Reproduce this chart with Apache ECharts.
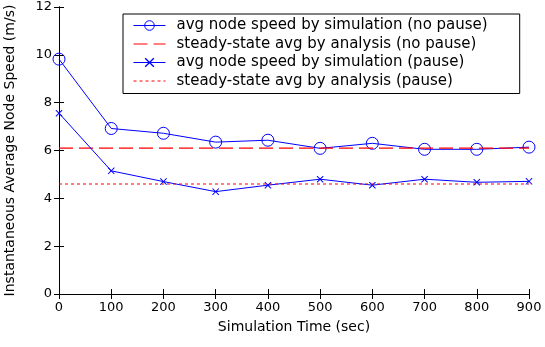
<!DOCTYPE html>
<html>
<head>
<meta charset="utf-8">
<script src="https://cdn.jsdelivr.net/npm/echarts@6/dist/echarts.min.js"></script>
<style>
  html, body { margin: 0; padding: 0; background: #fff; }
  #chart { width: 545px; height: 347px; }
</style>
</head>
<body>
<div id="chart"></div>
<script>
// Simulation time points (sec)
const times = [0, 100, 200, 300, 400, 500, 600, 700, 800, 900];
// Average node speed from simulation, random waypoint without pause (m/s)
const simNoPause = [9.82, 6.92, 6.72, 6.35, 6.43, 6.09, 6.30, 6.05, 6.05, 6.14];
// Average node speed from simulation, with pause time (m/s)
const simPause = [7.56, 5.15, 4.70, 4.28, 4.55, 4.80, 4.55, 4.80, 4.67, 4.71];
// Steady-state averages predicted by analysis (m/s)
const steadyNoPause = 6.10;
const steadyPause = 4.60;

const names = [
  'avg node speed by simulation (no pause)',
  'steady-state avg by analysis (no pause)',
  'avg node speed by simulation (pause)',
  'steady-state avg by analysis (pause)'
];

const pair = (xs, ys) => xs.map((x, i) => [x, ys[i]]);
const flat = (v) => [[times[0], v], [times[times.length - 1], v]];

const BLUE = '#0000ff';
const RED = '#ff0000';
const FONT = 'DejaVu Sans';
const crossPath = 'path://M0,1L1,0L5,4L9,0L10,1L6,5L10,9L9,10L5,6L1,10L0,9L4,5Z';
const DASH_LONG = [14, 6];
const DASH_SHORT = [3, 3];

const axisCommon = {
  type: 'value',
  axisLine: { show: true, lineStyle: { color: '#000', width: 1 } },
  axisTick: { show: true, inside: true, length: 5, lineStyle: { color: '#000' } },
  splitLine: { show: false }
};

const noMarker = { color: 'rgba(0,0,0,0)', borderColor: 'rgba(0,0,0,0)', borderWidth: 0 };
const circleMarker = { color: 'rgba(255,255,255,0)', borderColor: BLUE, borderWidth: 1 };

const option = {
  animation: false,
  backgroundColor: '#fff',
  grid: { left: 59, right: 16, top: 7, bottom: 53, containLabel: false, outerBoundsMode: 'none' },
  xAxis: [
    Object.assign({}, axisCommon, {
      min: 0, max: 900, interval: 100,
      name: 'Simulation Time (sec)',
      nameLocation: 'middle',
      nameGap: 26,
      nameTextStyle: { fontFamily: FONT, fontSize: 14, color: '#000' },
      axisLabel: { fontFamily: FONT, fontSize: 13, color: '#000', margin: 7 }
    }),
    Object.assign({}, axisCommon, {
      position: 'top', min: 0, max: 900, interval: 100,
      axisLabel: { show: false }
    })
  ],
  yAxis: [
    Object.assign({}, axisCommon, {
      min: 0, max: 12, interval: 2,
      name: 'Instantaneous Average Node Speed (m/s)',
      nameLocation: 'middle',
      nameGap: 42,
      nameTextStyle: { fontFamily: FONT, fontSize: 14, color: '#000' },
      axisLabel: { fontFamily: FONT, fontSize: 13, color: '#000', margin: 7 }
    }),
    Object.assign({}, axisCommon, {
      position: 'right', min: 0, max: 12, interval: 2,
      axisLabel: { show: false }
    })
  ],
  legend: {
    orient: 'vertical',
    left: 123,
    top: 14,
    padding: [4, 32, 5, 10],
    itemGap: 3.5,
    itemWidth: 32,
    itemHeight: 12,
    backgroundColor: '#fff',
    borderColor: '#000',
    borderWidth: 1,
    borderRadius: 0,
    z: 10,
    textStyle: { fontFamily: FONT, fontSize: 15, color: '#000', padding: [0, 0, 0, 6] },
    data: [
      { name: names[0], itemStyle: circleMarker, lineStyle: { color: BLUE, width: 1 } },
      { name: names[1], itemStyle: noMarker, lineStyle: { color: RED, width: 1, type: DASH_LONG } },
      { name: names[2], lineStyle: { color: BLUE, width: 1 } },
      { name: names[3], itemStyle: noMarker, lineStyle: { color: RED, width: 1, type: DASH_SHORT } }
    ]
  },
  series: [
    {
      name: names[0], type: 'line', data: pair(times, simNoPause),
      symbol: 'circle', symbolSize: 12,
      itemStyle: circleMarker,
      lineStyle: { color: BLUE, width: 1 },
      z: 2
    },
    {
      name: names[1], type: 'line', data: flat(steadyNoPause),
      symbol: 'none',
      itemStyle: { color: RED },
      lineStyle: { color: RED, width: 1.2, type: DASH_LONG },
      z: 3
    },
    {
      name: names[2], type: 'line', data: pair(times, simPause),
      symbol: crossPath, symbolSize: 7,
      itemStyle: { color: BLUE },
      lineStyle: { color: BLUE, width: 1 },
      z: 4
    },
    {
      name: names[3], type: 'line', data: flat(steadyPause),
      symbol: 'none',
      itemStyle: { color: RED },
      lineStyle: { color: RED, width: 1.2, type: DASH_SHORT },
      z: 5
    }
  ]
};

echarts.init(document.getElementById('chart'), null, { renderer: 'canvas' }).setOption(option);
</script>
</body>
</html>
